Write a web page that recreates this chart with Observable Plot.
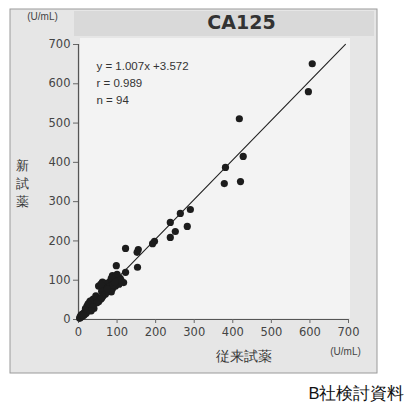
<!DOCTYPE html>
<html><head><meta charset="utf-8">
<script src="https://cdn.jsdelivr.net/npm/d3@7"></script>
<script src="https://cdn.jsdelivr.net/npm/@observablehq/plot@0.6"></script>
<style>body{margin:0;background:#fff;font-family:"Liberation Sans",Arial,sans-serif}</style>
</head><body><div id="chart"></div>
<script>
// 従来試薬 (x) vs 新試薬 (y), U/mL
const oldReagent = [606,596,417,427,381,378,420,290,264,238,251,282,238,197,192,155,152,122,153,98,122,117,88,108,
  100,95,90,85,80,92,75,70,65,72,82,88,78,68,60,62,52,58,100,105,110,96,85,
  50,48,52,45,42,40,38,35,35,32,30,28,25,27,22,20,18,17,15,12,10,8,6,5,4,3,45,55,60,65,30,40,25,15,10,8,
  70,75,90,95,62,58,47,37,33,20,13];
const newReagent = [651,580,511,415,387,346,351,280,270,247,224,237,209,199,193,178,171,181,133,137,120,94,112,105,
  115,108,100,105,95,92,88,92,85,80,85,78,72,75,72,95,85,90,98,90,100,85,70,
  55,50,45,48,42,50,52,48,35,38,30,42,28,22,34,20,28,15,18,12,14,8,10,5,6,3,60,50,55,62,47,28,40,12,8,12,
  65,78,88,95,58,52,42,32,22,16,10];
const xTicks = [0,100,200,300,400,500,600,700];
const yTicks = [0,100,200,300,400,500,600,700];
const slope = 1.007, intercept = 3.572;
const fitX = [0, 692];
const title = "CA125";
const statsText = ["y = 1.007x +3.572", "r = 0.989", "n = 94"];
const unit = "(U/mL)";
const xLabel = "従来試薬";
const yLabel = "新試薬";
const source = "B社検討資料";

const points = oldReagent.map((x, i) => ({x, y: newReagent[i]}));
const fit = fitX.map(x => ({x, y: slope * x + intercept}));
const font = "'Liberation Sans', Arial, sans-serif";
const tickFont = "'DejaVu Sans', sans-serif";

const chart = Plot.plot({
  width: 408, height: 406,
  marginLeft: 78, marginRight: 60, marginTop: 44, marginBottom: 87,
  style: {fontFamily: font, background: "transparent", color: "#444"},
  x: {domain: [0, 700]},
  y: {domain: [0, 700]},
  marks: [
    Plot.ruleX([0], {stroke: "#555", strokeWidth: 1.2}),
    Plot.ruleY([0], {stroke: "#555", strokeWidth: 1.2}),
    Plot.axisX({ticks: xTicks, tickSize: 4, tickPadding: 4, label: null, fontSize: 11.5, fontFamily: tickFont, stroke: "#666", fill: "#444"}),
    Plot.axisY({ticks: yTicks, tickSize: 5, tickPadding: 3, label: null, fontSize: 11.5, fontFamily: tickFont, stroke: "#666", fill: "#444"}),
    Plot.line(fit, {x: "x", y: "y", stroke: "#222", strokeWidth: 1.1, clip: false}),
    Plot.dot(points, {x: "x", y: "y", r: 3.6, fill: "#1c1c1c", stroke: "none"}),
    Plot.text([title], {frameAnchor: "top", dx: 28, dy: -22, lineAnchor: "middle", fontSize: 19, fontWeight: 600, fontFamily: tickFont, fill: "#333", letterSpacing: "1px"}),
    Plot.text([statsText.join("\n")], {frameAnchor: "top-left", textAnchor: "start", dx: 18, dy: 13, lineAnchor: "top", lineHeight: 1.5, fontSize: 11.5, fill: "#333"}),
    Plot.text([yLabel.split("").join("\n")], {frameAnchor: "left", textAnchor: "middle", dx: -56, dy: 0, lineAnchor: "middle", lineHeight: 1.4, fontSize: 13, fill: "#333"}),
    Plot.text([unit], {frameAnchor: "top-left", textAnchor: "middle", dx: -36, dy: -28, lineAnchor: "middle", fontSize: 10, fill: "#444"}),
    Plot.text([xLabel], {frameAnchor: "bottom", textAnchor: "middle", dx: 30, dy: 37, lineAnchor: "middle", fontSize: 14, fill: "#333"}),
    Plot.text([unit], {frameAnchor: "bottom-right", textAnchor: "middle", dx: -3, dy: 32, lineAnchor: "middle", fontSize: 10, fill: "#444"}),
    Plot.text([source], {frameAnchor: "bottom-right", textAnchor: "end", dx: 56, dy: 74, lineAnchor: "middle", fontSize: 16.5, fill: "#111"})
  ]
});

// background panels (scan-like grey box)
const svg = d3.select(chart);
const bg = svg.insert("g", ":first-child");
bg.append("rect").attr("x", 10).attr("y", 9).attr("width", 367).attr("height", 364)
  .attr("fill", "#e6e6e6").attr("stroke", "#9a9a9a").attr("stroke-width", 1);
bg.append("rect").attr("x", 74).attr("y", 11).attr("width", 300).attr("height", 25).attr("fill", "#d9d9d9");
bg.append("rect").attr("x", 80).attr("y", 38).attr("width", 270).attr("height", 280).attr("fill", "#f3f3f3");
document.getElementById("chart").append(chart);
</script></body></html>
